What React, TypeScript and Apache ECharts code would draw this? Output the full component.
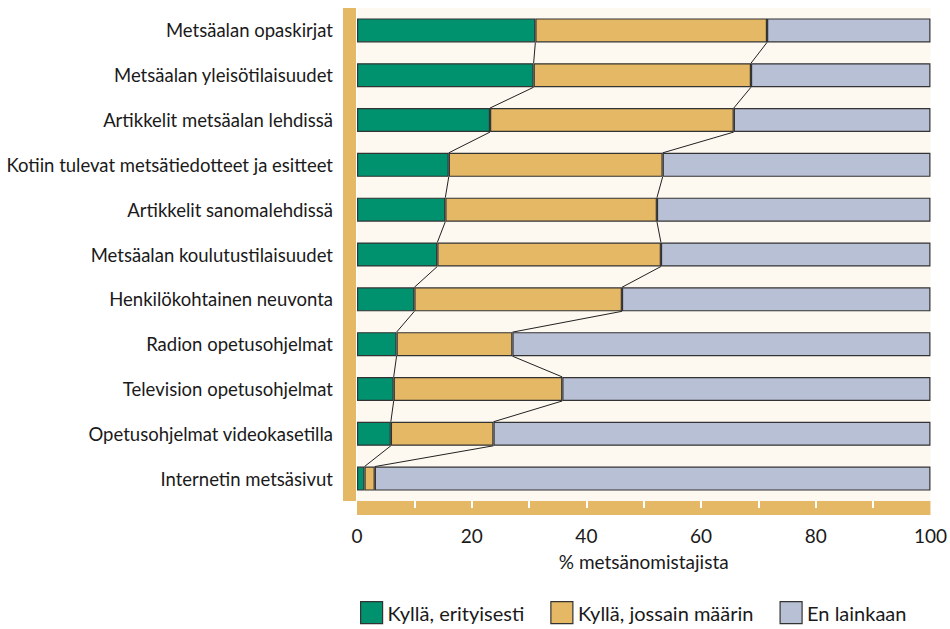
import React, { useEffect, useRef } from "react";
import * as echarts from "echarts";

const categories = [
  "Metsäalan opaskirjat",
  "Metsäalan yleisötilaisuudet",
  "Artikkelit metsäalan lehdissä",
  "Kotiin tulevat metsätiedotteet ja esitteet",
  "Artikkelit sanomalehdissä",
  "Metsäalan koulutustilaisuudet",
  "Henkilökohtainen neuvonta",
  "Radion opetusohjelmat",
  "Television opetusohjelmat",
  "Opetusohjelmat videokasetilla",
  "Internetin metsäsivut",
];
const seriesNames = ["Kyllä, erityisesti", "Kyllä, jossain määrin", "En lainkaan"];
const especially = [31.1, 30.8, 23.2, 16.0, 15.4, 14.0, 10.0, 6.9, 6.4, 5.9, 1.3];
const somewhat = [40.4, 37.9, 42.5, 37.3, 36.9, 39.0, 36.2, 20.2, 29.4, 17.9, 1.8];
const notAtAll = [28.5, 31.3, 34.3, 46.7, 47.7, 47.0, 53.8, 72.9, 64.2, 76.2, 96.9];
const xTicks = [10, 20, 30, 40, 50, 60, 70, 80, 90];

const COLORS = ["#00916e", "#e5b865", "#b8c0d6"];
const TAN = "#e5b865";
const FONT = "Lato";
const BAR_RATIO = 0.536;

function connectors(vals: number[]) {
  const out: number[][] = [];
  for (let i = 0; i < vals.length - 1; i++) out.push([vals[i], i, vals[i + 1], i + 1]);
  return out;
}

export default function App() {
  const ref = useRef<HTMLDivElement>(null);
  useEffect(() => {
    if (!ref.current) return;
    const chart = echarts.init(ref.current, null, { renderer: "svg" });
    const cum1 = especially;
    const cum2 = especially.map((v, i) => v + somewhat[i]);
    const renderConn = (params: any, api: any) => {
      const p1 = api.coord([api.value(0), api.value(1)]);
      const p2 = api.coord([api.value(2), api.value(3)]);
      const half = (api.size([0, 1])[1] * BAR_RATIO) / 2;
      return {
        type: "line",
        shape: { x1: p1[0], y1: p1[1] + half, x2: p2[0], y2: p2[1] - half },
        style: { stroke: "#222", lineWidth: 1 },
        silent: true,
      };
    };
    const barBase = {
      type: "bar",
      stack: "total",
      barWidth: BAR_RATIO * 100 + "%",
      itemStyle: { borderColor: "#333", borderWidth: 1.2 },
    };
    chart.setOption({
      animation: false,
      backgroundColor: "#ffffff",
      textStyle: { fontFamily: FONT },
      grid: {
        left: 357,
        right: 18,
        top: 8,
        bottom: 128,
        show: true,
        backgroundColor: "#fdf8f0",
        borderWidth: 0,
      },
      legend: {
        top: 596,
        left: 355,
        itemWidth: 22,
        itemHeight: 22,
        itemGap: 26,
        icon: "rect",
        textStyle: { fontSize: 20, color: "#1a1a1a", fontFamily: FONT },
        itemStyle: { borderColor: "#333", borderWidth: 1.2 },
        data: seriesNames,
      },
      xAxis: {
        type: "value",
        min: 0,
        max: 100,
        interval: 20,
        offset: 7,
        name: "% metsänomistajista",
        nameLocation: "middle",
        nameGap: 44,
        nameTextStyle: { fontSize: 19, color: "#1a1a1a", fontFamily: FONT },
        axisLine: { show: true, onZero: false, lineStyle: { color: TAN, width: 14, cap: "butt" } },
        axisTick: {
          show: true,
          inside: true,
          length: 7,
          customValues: xTicks,
          lineStyle: { color: "#ffffff", width: 2 },
        },
        axisLabel: { fontSize: 19, color: "#1a1a1a", margin: 18, fontFamily: FONT },
        splitLine: { show: false },
      },
      yAxis: {
        type: "category",
        data: categories,
        inverse: true,
        offset: 8,
        axisLine: { show: true, onZero: false, lineStyle: { color: TAN, width: 13, cap: "butt" } },
        axisTick: { show: false },
        axisLabel: { fontSize: 18.5, color: "#1a1a1a", margin: 16, fontFamily: FONT },
      },
      series: [
        { ...barBase, name: seriesNames[0], data: especially, itemStyle: { ...barBase.itemStyle, color: COLORS[0] } },
        { ...barBase, name: seriesNames[1], data: somewhat, itemStyle: { ...barBase.itemStyle, color: COLORS[1] } },
        { ...barBase, name: seriesNames[2], data: notAtAll, itemStyle: { ...barBase.itemStyle, color: COLORS[2] } },
        {
          type: "custom",
          renderItem: renderConn,
          data: connectors(cum1),
          encode: { x: [0, 2], y: [1, 3] },
          silent: true,
          z: 1,
        },
        {
          type: "custom",
          renderItem: renderConn,
          data: connectors(cum2),
          encode: { x: [0, 2], y: [1, 3] },
          silent: true,
          z: 1,
        },
      ],
    });
    return () => chart.dispose();
  }, []);
  return (
    <div
      ref={ref}
      style={{ position: "fixed", left: 0, top: 0, width: 950, height: 629 }}
    />
  );
}
